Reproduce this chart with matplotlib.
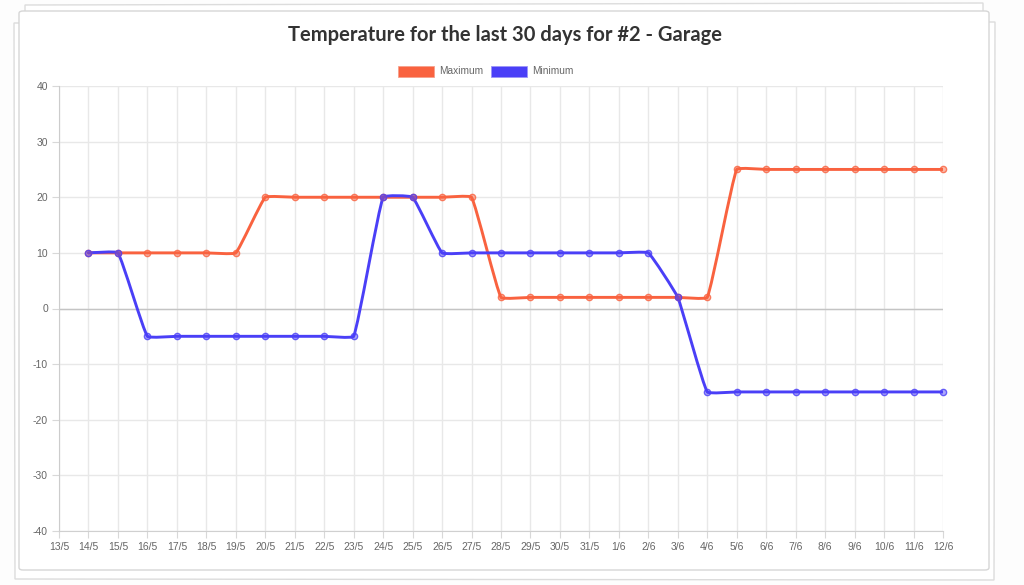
import numpy as np
import matplotlib
matplotlib.use('Agg')
import matplotlib.pyplot as plt
from matplotlib.path import Path
from matplotlib.patches import PathPatch, FancyBboxPatch, Polygon, Rectangle

plt.rcParams['axes.unicode_minus'] = False

# %% data
labels = ['13/5', '14/5', '15/5', '16/5', '17/5', '18/5', '19/5', '20/5', '21/5', '22/5',
          '23/5', '24/5', '25/5', '26/5', '27/5', '28/5', '29/5', '30/5', '31/5', '1/6',
          '2/6', '3/6', '4/6', '5/6', '6/6', '7/6', '8/6', '9/6', '10/6', '11/6', '12/6']
maximum = [np.nan, 10, 10, 10, 10, 10, 10, 20, 20, 20, 20, 20, 20, 20, 20, 2, 2, 2, 2, 2,
           2, 2, 2, 25, 25, 25, 25, 25, 25, 25, 25]
minimum = [np.nan, 10, 10, -5, -5, -5, -5, -5, -5, -5, -5, 20, 20, 10, 10, 10, 10, 10, 10, 10,
           10, 2, -15, -15, -15, -15, -15, -15, -15, -15, -15]

max_color = '#f9623f'
min_color = '#4a3ff7'

W, H = 1024, 585
fig = plt.figure(figsize=(W / 100, H / 100), dpi=100)
fig.patch.set_facecolor('#fdfdfd')


def px(x, y):
    return (x / W, 1 - y / H)


# %% stacked paper card behind the chart
back1 = Polygon([px(25, 5), px(983, 3), px(985, 575), px(27, 577)], closed=True,
                transform=fig.transFigure, facecolor='white', edgecolor='#dcdcdc', lw=1, zorder=-3)
back2 = Polygon([px(14, 23), px(995, 22), px(994, 580), px(15, 579)], closed=True,
                transform=fig.transFigure, facecolor='white', edgecolor='#dcdcdc', lw=1, zorder=-2)
card = FancyBboxPatch(px(19, 570), 970 / W, 559 / H, boxstyle='round,pad=0,rounding_size=0.004',
                      transform=fig.transFigure, facecolor='white', edgecolor='#d6d6d6', lw=1,
                      zorder=-1)
fig.patches.extend([back1, back2, card])

# %% axes
ax = fig.add_axes([59 / W, 1 - 531 / H, (943 - 59) / W, (531 - 86) / H])
ax.set_facecolor('none')
x = np.arange(len(labels))
ax.set_xlim(0, len(labels) - 1)
ax.set_ylim(-40, 40)
ax.set_xticks(x)
ax.set_xticklabels(labels)
ax.set_yticks(np.arange(-40, 41, 10))
for s in ['top', 'right']:
    ax.spines[s].set_visible(False)
ax.spines['left'].set_color('#cccccc')
ax.spines['bottom'].set_color('#d0d0d0')
ax.grid(True, color='#e8e8e8', lw=1)
ax.set_axisbelow(True)
ax.axhline(0, color='#c4c4c4', lw=1, zorder=1)
ax.tick_params(axis='both', colors='#d8d8d8', length=5, labelcolor='#666666', labelsize=7.5, pad=3)
for lab in ax.get_xticklabels() + ax.get_yticklabels():
    lab.set_family('Liberation Sans')


def spline_path(xv, yv, tension=0.1):
    # chart.js style bezier, control points computed in display space
    ok = ~np.isnan(yv)
    pts = ax.transData.transform(np.column_stack([xv[ok], yv[ok]]))
    n = len(pts)
    verts = [pts[0]]
    codes = [Path.MOVETO]
    cps = []
    for i in range(n):
        prev = pts[i - 1] if i > 0 else pts[i]
        cur = pts[i]
        nxt = pts[i + 1] if i < n - 1 else pts[i]
        d01 = np.hypot(*(cur - prev))
        d12 = np.hypot(*(nxt - cur))
        tot = d01 + d12
        s01 = d01 / tot if tot else 0
        s12 = d12 / tot if tot else 0
        cps.append((cur - tension * s01 * (nxt - prev), cur + tension * s12 * (nxt - prev)))
    for i in range(n - 1):
        verts += [cps[i][1], cps[i + 1][0], pts[i + 1]]
        codes += [Path.CURVE4] * 3
    verts = ax.transData.inverted().transform(np.array(verts))
    return Path(verts, codes)


for vals, col in [(maximum, max_color), (minimum, min_color)]:
    yv = np.array(vals, dtype=float)
    ax.add_patch(PathPatch(spline_path(x.astype(float), yv), facecolor='none', edgecolor=col,
                           lw=2.1, zorder=3, capstyle='round', joinstyle='round'))
    ax.plot(x, yv, 'o', ms=4.5, mfc=matplotlib.colors.to_rgba(col, 0.45),
            mec=matplotlib.colors.to_rgba(col, 0.8), mew=1, zorder=4, clip_on=False)

# %% title and legend
fig.text(505 / W, 1 - 35 / H, 'Temperature for the last 30 days for #2 - Garage',
         ha='center', va='center', fontsize=14.5, fontweight='bold', family='Lato', color='#333333')
fig.patches.append(Rectangle(px(398, 77), 36 / W, 11 / H, transform=fig.transFigure,
                             facecolor=max_color, edgecolor='#f7a08c', lw=0.6))
fig.text(439 / W, 1 - 71.5 / H, 'Maximum', ha='left', va='center', fontsize=7.3,
         family='Liberation Sans', color='#666666')
fig.patches.append(Rectangle(px(491, 77), 36 / W, 11 / H, transform=fig.transFigure,
                             facecolor=min_color, edgecolor='#9c95f8', lw=0.6))
fig.text(532 / W, 1 - 71.5 / H, 'Minimum', ha='left', va='center', fontsize=7.3,
         family='Liberation Sans', color='#666666')

fig.savefig('out.png', dpi=100, facecolor=fig.get_facecolor())
